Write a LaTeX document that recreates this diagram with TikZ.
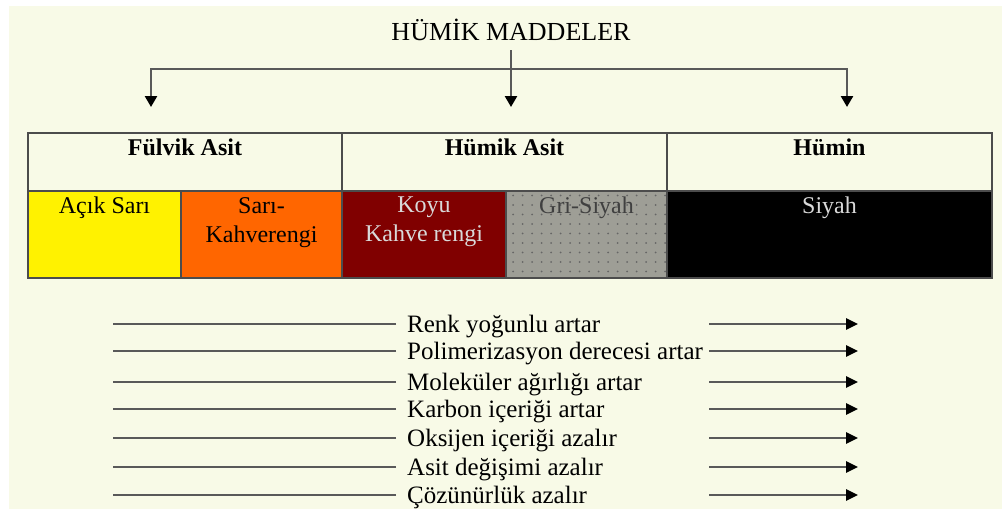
\documentclass[tikz,border=0pt]{standalone}
\usepackage{fontspec}
\setmainfont{Liberation Serif}
\usetikzlibrary{positioning,arrows.meta,patterns.meta}
\definecolor{cream}{RGB}{248,250,231}
\definecolor{kahve}{RGB}{255,102,0}
\definecolor{koyu}{RGB}{128,0,0}
\definecolor{grisiyah}{RGB}{158,158,150}
\tikzset{
  head box/.style={
    draw=black!70,
    line width=1.5pt,
    fill=cream,
    minimum width={#1pt},
    minimum height={58pt},
    inner sep=0pt,
    outer sep=0pt,
  },
  cell box/.style={
    head box=#1,
    minimum height={87pt},
  },
  box text/.style={
    anchor=north,
    align=center,
    inner sep=6pt,
    font=\fontsize{24}{29}\selectfont,
  },
  head text/.style={
    box text,
    font=\bfseries\fontsize{24}{29}\selectfont,
  },
  title/.style={
    anchor=base,
    inner sep=10pt,
    text height=18pt,
    text depth=0pt,
    font=\fontsize{26}{30}\selectfont,
  },
  link/.style={
    draw=black!65,
    line width=2.5pt,
    >={Triangle[width=12pt,length=11pt,black]},
  },
  trend/.style={
    anchor=west,
    inner xsep=11pt,
    inner ysep=0pt,
    text height=17pt,
    text depth=0pt,
    font=\fontsize{25}{30}\selectfont,
  },
  rule/.style={
    draw=black!65,
    line width=2.5pt,
    >={Triangle[width=11pt,length=12pt,black]},
  }
}

\begin{document}
\begin{tikzpicture}[x=1pt, y=-1pt, node distance=0pt]
  \useasboundingbox (0,0) rectangle (1002,509);
  \fill[cream] (9,6) rectangle (1002,509);

  \node [title] (title) at (511,40) {HÜMİK MADDELER};

  \node [head box=314, anchor=north west] (fa) at (28,133) {};
  \node [head box=325, right=of fa] (ha) {};
  \node [head box=325, right=of ha] (hn) {};

  \node [cell box=153, fill=yellow, anchor=north west] (c1) at (fa.south west) {};
  \node [cell box=161, fill=kahve, right=of c1] (c2) {};
  \node [cell box=164, fill=koyu, right=of c2] (c3) {};
  \node [cell box=161, fill=grisiyah, right=of c3,
         postaction={pattern={Dots[distance=9.5pt,radius=1pt]}, pattern color=black!60}] (c4) {};
  \node [cell box=325, fill=black, right=of c4] (c5) {};

  \node [head text] (fa txt) at (fa.north) {Fülvik Asit};
  \node [head text] (ha txt) at (ha.north) {Hümik Asit};
  \node [head text] (hn txt) at (hn.north) {Hümin};

  \node [box text] (c1 txt) at (c1.north) {Açık Sarı};
  \node [box text] (c2 txt) at (c2.north) {Sarı-\\Kahverengi};
  \node [box text, text=white!85!black] (c3 txt) at (c3.north) {Koyu\\Kahve rengi};
  \node [box text, text=black!75] (c4 txt) at (c4.north) {Gri-Siyah};
  \node [box text, text=white!85!black] (c5 txt) at (c5.north) {Siyah};

  \coordinate (tip fa) at (151,107);
  \coordinate (tip hn) at (847,107);
  \draw [link, <->] (tip fa) -- ++(0,-38) -| (tip hn);
  \draw [link, ->] (title) -- (title |- tip fa);

  \foreach \txt/\y [count=\i] in {Renk yoğunlu artar/324,
      Polimerizasyon derecesi artar/351, Moleküler ağırlığı artar/382,
      Karbon içeriği artar/409, Oksijen içeriği azalır/438,
      Asit değişimi azalır/467, Çözünürlük azalır/495} {
    \node [trend] (r\i) at (396,\y) {\txt};
    \draw [rule] (r\i.west) -- ++(-283,0);
    \draw [rule, ->] ([xshift=313pt]r\i.west) -- ++(149,0);
  }
\end{tikzpicture}
\end{document}
